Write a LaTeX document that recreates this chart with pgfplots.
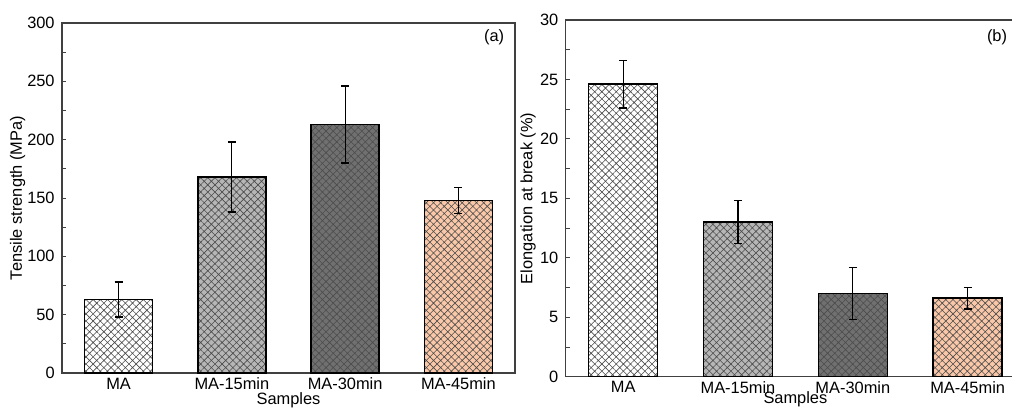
\documentclass[border=0pt]{standalone}
\usepackage{fontspec}
\setmainfont{Liberation Sans}
\usepackage{pgfplots}
\pgfplotsset{compat=1.18}
\usetikzlibrary{patterns.meta}

\definecolor{cLight}{RGB}{182,182,182}
\definecolor{cDark}{RGB}{112,112,112}
\definecolor{cPeach}{RGB}{250,200,168}

\pgfplotsset{
  panel/.style={
    scale only axis,
    xmin=0.5, xmax=4.5, ymin=0,
    xtick={1,2,3,4},
    xticklabels={MA,MA-15min,MA-30min,MA-45min},
    xtick style={draw=none},
    ytick pos=left,
    tick align=inside,
    minor y tick num=1,
    major tick length=3pt, minor tick length=3pt,
    tick style={black!75, line width=0.6pt},
    axis line style={black!75, line width=0.9pt},
    yticklabel style={xshift=-2pt},
    /pgf/number format/assume math mode=true,
    font=\fontsize{12.3}{14}\selectfont,
    xlabel={Samples},
  },
  hbar/.style={ybar, bar width=0.6, bar shift=0pt, draw=black, line width=1.1pt,
    fill=#1,
    postaction={pattern={Hatch[angle=45,distance=3.8pt,line width=0.45pt]}, pattern color=black!70}},
  ebar/.style={draw=none, mark=none,
    error bars/.cd, y dir=both, y explicit,
    error bar style={draw=black, line width=0.9pt},
    error mark options={draw=black, rotate=90, mark size=3pt, line width=0.9pt}},
}

\begin{document}
\begin{tikzpicture}
\path[use as bounding box] (0,0) rectangle (759pt,-305.25pt);
\clip (0,0) rectangle (759pt,-305.25pt);

% (a) tensile strength
\begin{axis}[panel,
  at={(46.5pt,-279.75pt)}, anchor=south west,
  width=339.75pt, height=262.5pt,
  ymax=300, ytick={0,50,...,300},
  ylabel={Tensile strength (MPa)},
  ylabel style={at={(axis description cs:-0.098,0.5)}, anchor=center},
  xlabel style={at={(axis description cs:0.5,-0.077)}, anchor=center},
]
\addplot[hbar=white]  coordinates {(1,63)};
\addplot[hbar=cLight] coordinates {(2,168)};
\addplot[hbar=cDark]  coordinates {(3,213)};
\addplot[hbar=cPeach] coordinates {(4,148)};
\addplot[ebar] coordinates {(1,63) +- (0,15) (2,168) +- (0,30) (3,213) +- (0,33) (4,148) +- (0,11)};
\node at (rel axis cs:0.954,0.96) {(a)};
\end{axis}

% (b) elongation at break
\begin{axis}[panel,
  at={(424.3pt,-282.5pt)}, anchor=south west,
  width=344.5pt, height=267.5pt,
  ymax=30, ytick={0,5,...,30},
  ylabel={Elongation at break (\%)},
  ylabel style={at={(axis description cs:-0.082,0.5)}, anchor=center},
  xlabel style={at={(axis description cs:0.5,-0.064)}, anchor=center},
]
\addplot[hbar=white]  coordinates {(1,24.6)};
\addplot[hbar=cLight] coordinates {(2,13.0)};
\addplot[hbar=cDark]  coordinates {(3,7.0)};
\addplot[hbar=cPeach] coordinates {(4,6.6)};
\addplot[ebar] coordinates {(1,24.6) +- (0,2.0) (2,13.0) +- (0,1.8) (3,7.0) +- (0,2.2) (4,6.6) +- (0,0.9)};
\node at (rel axis cs:0.939,0.952) {(b)};
\end{axis}
\end{tikzpicture}
\end{document}
